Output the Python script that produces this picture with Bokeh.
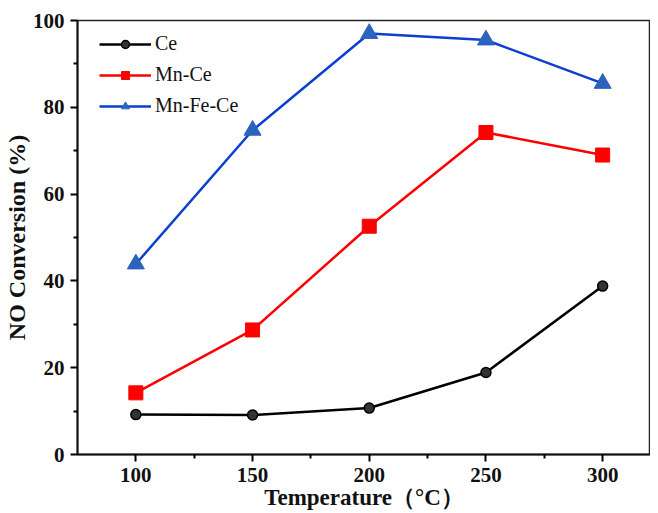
from bokeh.plotting import figure
from bokeh.models import FixedTicker, Range1d, Legend, LegendItem
from bokeh.embed import file_html
from bokeh.resources import INLINE

temps = [100, 150, 200, 250, 300]
ce = [9.2, 9.1, 10.7, 18.9, 38.8]
mn_ce = [14.2, 28.7, 52.6, 74.2, 69.0]
mn_fe_ce = [43.9, 74.7, 97.0, 95.5, 85.5]
x_ticks = [100, 150, 200, 250, 300]
x_minor = [125, 175, 225, 275]
y_ticks = [0, 20, 40, 60, 80, 100]
y_minor = [10, 30, 50, 70, 90]

SERIF = "Liberation Serif"

p = figure(width=650, height=512, output_backend="svg", toolbar_location=None,
           x_range=Range1d(75, 320.5), y_range=Range1d(0, 100),
           min_border_left=68, min_border_top=20, min_border_bottom=50, min_border_right=0)
p.grid.visible = False
p.outline_line_color = "#222222"
p.outline_line_width = 1.5
p.background_fill_color = "white"

for ax, ticks, minor in [(p.xaxis[0], x_ticks, x_minor), (p.yaxis[0], y_ticks, y_minor)]:
    ax.ticker = FixedTicker(ticks=ticks, minor_ticks=minor)
    ax.axis_line_width = 2
    ax.axis_line_color = "#111111"
    ax.major_tick_line_width = 2
    ax.minor_tick_line_width = 2
    ax.major_tick_out = 7
    ax.major_tick_in = 0
    ax.minor_tick_out = 4
    ax.minor_tick_in = 0
    ax.major_label_text_font = SERIF
    ax.major_label_text_font_style = "bold"
    ax.major_label_text_font_size = "21px"
    ax.major_label_text_color = "#111111"
    ax.axis_label_text_font = SERIF
    ax.axis_label_text_font_style = "bold"
    ax.axis_label_text_color = "#111111"

p.xaxis.axis_label = "Temperature（°C）"
p.yaxis.axis_label = "NO Conversion (%)"
p.xaxis.axis_label_text_font_size = "23px"
p.yaxis.axis_label_text_font_size = "24px"
p.xaxis.major_label_standoff = 6
p.xaxis.axis_label_standoff = 0
p.yaxis.major_label_standoff = 6
p.yaxis.axis_label_standoff = 0

l1 = p.line(temps, ce, line_color="black", line_width=2.5)
m1 = p.scatter(temps, ce, marker="circle", size=10, fill_color="#333333", line_color="black", line_width=1.5)
l2 = p.line(temps, mn_ce, line_color="#ff0000", line_width=2.5)
m2 = p.scatter(temps, mn_ce, marker="square", size=14, fill_color="#ff0000", line_color="#ff0000")
l3 = p.line(temps, mn_fe_ce, line_color="#0a3fd0", line_width=2.5)
m3 = p.scatter(temps, mn_fe_ce, marker="triangle", size=17, fill_color="#2b63bd", line_color="#2b63bd")

legend = Legend(items=[
    LegendItem(label="Ce", renderers=[l1, m1]),
    LegendItem(label="Mn-Ce", renderers=[l2, m2]),
    LegendItem(label="Mn-Fe-Ce", renderers=[l3, m3]),
], location=(22, 337))
legend.border_line_color = None
legend.background_fill_alpha = 0
legend.label_text_font = SERIF
legend.label_text_font_size = "20px"
legend.label_text_color = "#111111"
legend.glyph_width = 52
legend.glyph_height = 20
legend.label_height = 20
legend.spacing = 8
legend.padding = 5
legend.margin = 0
legend.label_standoff = 4
p.add_layout(legend, "center")

open("out.html", "w").write(file_html(p, INLINE))
